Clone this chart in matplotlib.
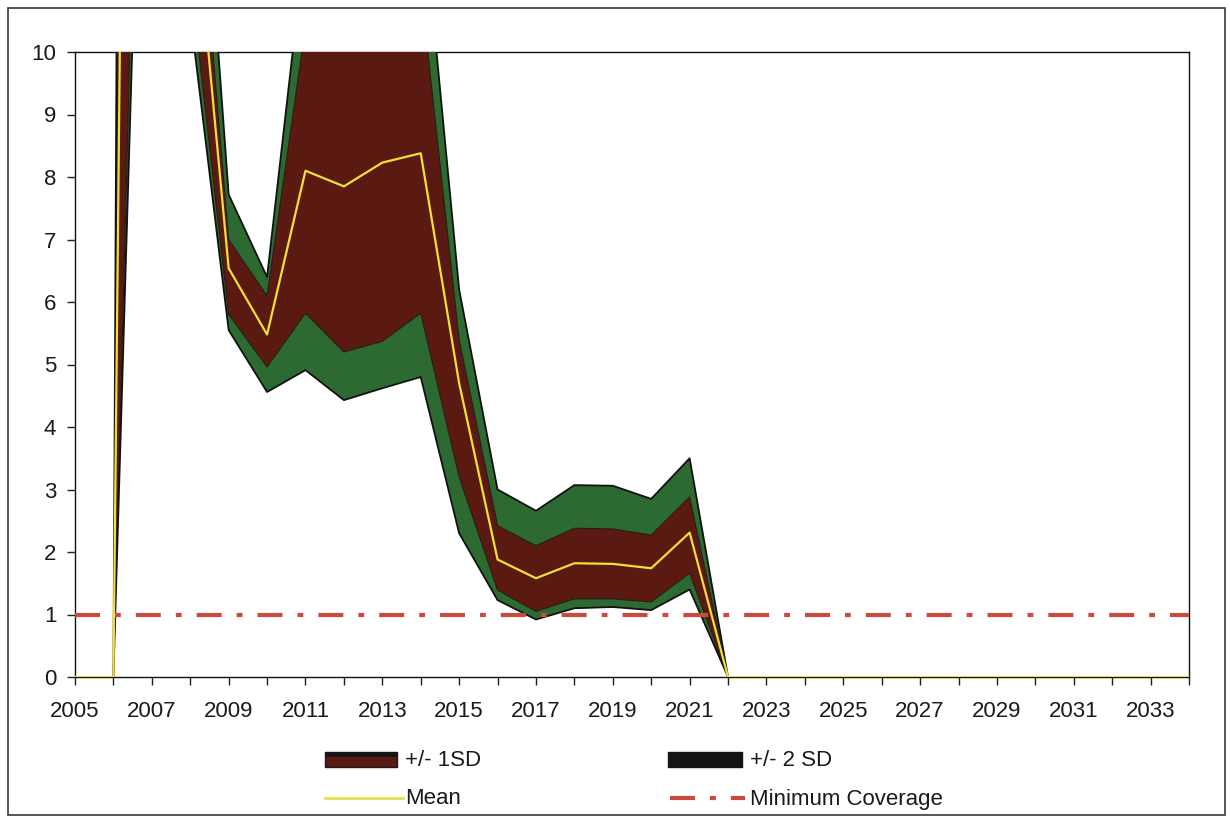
import matplotlib
matplotlib.use("Agg")
import matplotlib.pyplot as plt
from matplotlib.patches import Rectangle
from matplotlib.lines import Line2D
from matplotlib.ticker import FixedLocator

plt.rcParams['font.family'] = ['Liberation Sans', 'DejaVu Sans']

# ---- data -------------------------------------------------------------
years = list(range(2005, 2035))

mean = [0, 0, 60, 13.1, 6.54, 5.48, 8.10, 7.85, 8.23, 8.38, 4.70, 1.88,
        1.58, 1.82, 1.81, 1.74, 2.31, 0, 0, 0, 0, 0, 0, 0, 0, 0, 0, 0, 0, 0]
upper_2sd = [0, 0, 124, 16.2, 7.72, 6.40, 11.8, 11.3, 12.0, 12.65, 6.20, 3.00,
             2.66, 3.07, 3.06, 2.85, 3.50, 0, 0, 0, 0, 0, 0, 0, 0, 0, 0, 0, 0, 0]
upper_1sd = [0, 0, 87, 14.3, 7.00, 6.10, 10.4, 10.5, 11.0, 11.04, 5.40, 2.42,
             2.10, 2.38, 2.37, 2.27, 2.88, 0, 0, 0, 0, 0, 0, 0, 0, 0, 0, 0, 0, 0]
lower_1sd = [0, 0, 23.4, 11.2, 5.80, 4.96, 5.82, 5.20, 5.37, 5.82, 3.20, 1.39,
             1.05, 1.25, 1.25, 1.20, 1.66, 0, 0, 0, 0, 0, 0, 0, 0, 0, 0, 0, 0, 0]
lower_2sd = [0, 0, 20.5, 10.6, 5.55, 4.56, 4.91, 4.43, 4.62, 4.80, 2.30, 1.23,
             0.92, 1.10, 1.12, 1.07, 1.40, 0, 0, 0, 0, 0, 0, 0, 0, 0, 0, 0, 0, 0]
min_coverage = [1.0] * len(years)

x_tick_labels = [str(y) for y in range(2005, 2035, 2)]
y_ticks = list(range(0, 11))

legend_labels = ["+/- 1SD", "+/- 2 SD", "Mean", "Minimum Coverage"]

# ---- styles -----------------------------------------------------------
W, H = 1230, 819
RED_BAND = "#5a1a12"
GREEN_BAND = "#2c6a31"
MEAN_COLOR = "#f2de3a"
MIN_COLOR = "#cc4a3c"
MIN_STYLE = (0, (6, 3.6, 1.4, 3.6))
FONT = 16


def fx(px):
    return px / W


def fy(py):
    return 1 - py / H


fig = plt.figure(figsize=(W / 100, H / 100), dpi=100)
fig.patch.set_facecolor("white")

ax = fig.add_axes([fx(75), fy(677), fx(1189) - fx(75), fy(52) - fy(677)])

# bands
ax.fill_between(years, upper_2sd, upper_1sd, color=GREEN_BAND, lw=0, zorder=2)
ax.fill_between(years, upper_1sd, lower_1sd, color=RED_BAND, lw=0, zorder=2)
ax.fill_between(years, lower_1sd, lower_2sd, color=GREEN_BAND, lw=0, zorder=2)
ax.plot(years, upper_1sd, color="#241a12", lw=0.8, zorder=3)
ax.plot(years, lower_1sd, color="#241a12", lw=0.8, zorder=3)
ax.plot(years, upper_2sd, color="#111111", lw=1.3, zorder=3)
ax.plot(years, lower_2sd, color="#111111", lw=1.3, zorder=3)

# minimum coverage and mean
ax.plot(years, min_coverage, color=MIN_COLOR, lw=3, linestyle=MIN_STYLE, zorder=4)
ax.plot(years, mean, color=MEAN_COLOR, lw=1.6, zorder=5)

ax.set_xlim(2005, 2034)
ax.set_ylim(0, 10)

ax.xaxis.set_major_locator(FixedLocator(list(range(2005, 2035, 2))))
ax.set_xticklabels(x_tick_labels)
ax.xaxis.set_minor_locator(FixedLocator(list(range(2006, 2035, 2))))
ax.set_yticks(y_ticks)
ax.set_yticklabels([str(v) for v in y_ticks])

ax.tick_params(axis="x", which="both", direction="out", length=5.5, width=1,
               color="#222222", pad=12, labelsize=FONT, labelcolor="#1a1a1a")
ax.tick_params(axis="y", which="major", direction="out", length=5.5, width=1,
               color="#222222", pad=8, labelsize=FONT, labelcolor="#1a1a1a")

for side, sp in ax.spines.items():
    sp.set_color("#111111")
    sp.set_linewidth(1.0)
    sp.set_zorder(1)

# ---- legend -----------------------------------------------------------
def add_patch(x0, x1, y0, y1, **kw):
    fig.add_artist(Rectangle((fx(x0), fy(y1)), fx(x1) - fx(x0), fy(y0) - fy(y1),
                             transform=fig.transFigure, **kw))


add_patch(325, 397, 752, 767, facecolor=RED_BAND, edgecolor="#1a1a1a", lw=1)
add_patch(325, 397, 752, 757, facecolor="#151515", edgecolor="none")
add_patch(668, 742, 752, 767, facecolor="#141414", edgecolor="#141414", lw=1)

fig.add_artist(Line2D([fx(325), fx(403)], [fy(798), fy(798)], color="#e6e24a",
                      lw=2, transform=fig.transFigure))
fig.add_artist(Line2D([fx(670), fx(745)], [fy(798), fy(798)], color=MIN_COLOR,
                      lw=3, linestyle=MIN_STYLE, transform=fig.transFigure))

for (x, y), lab in zip([(405, 760), (750, 760), (405, 799), (750, 799)], legend_labels):
    fig.text(fx(x), fy(y), lab, fontsize=FONT, color="#1a1a1a",
             ha="left", va="center")

# chart frame
fig.add_artist(Rectangle((fx(8), fy(815)), fx(1225) - fx(8), fy(8) - fy(815),
                         transform=fig.transFigure, facecolor="none",
                         edgecolor="#3a3a3a", lw=1.2))

fig.savefig("out.png", dpi=100)
